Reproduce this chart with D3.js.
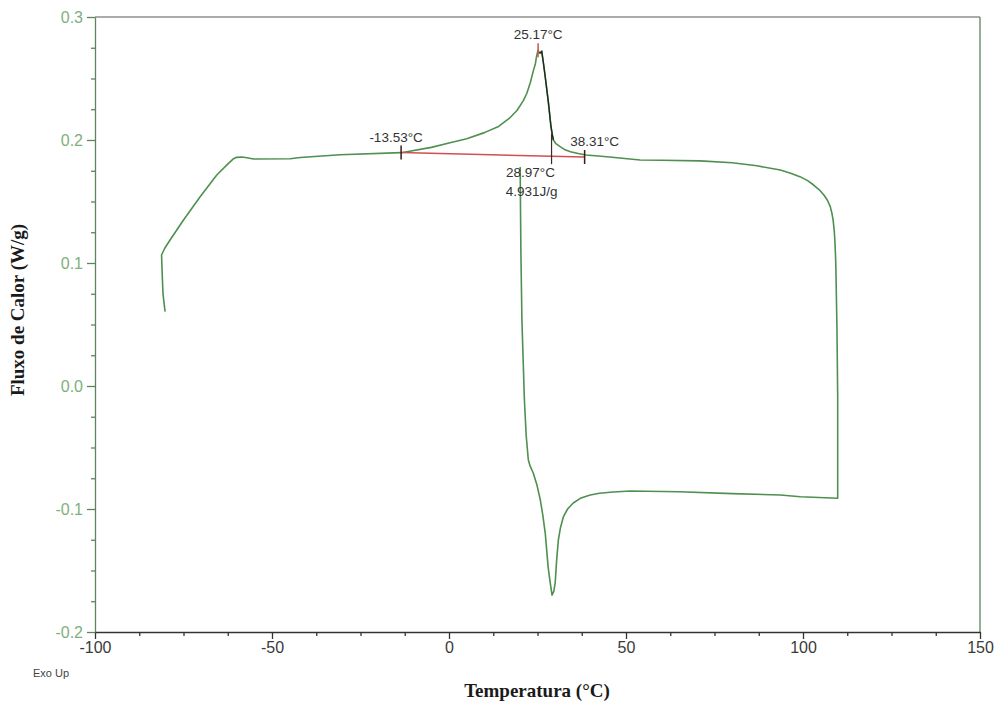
<!DOCTYPE html>
<html>
<head>
<meta charset="utf-8">
<script src="https://cdn.jsdelivr.net/npm/d3@7"></script>
<style>
  html, body { margin: 0; padding: 0; background: #ffffff; }
  svg { display: block; }
</style>
</head>
<body>
<svg id="chart" width="997" height="705"></svg>
<script>
// DSC heating scan (°C, W/g)
const heatTemp = [-80.2, -80.6, -80.8, -81.0, -81.2, -80.3, -78.8, -75.0, -70.3, -65.6, -62.3, -61.0, -60.0, -58.5, -57.1, -55.2,
  -44.9, -42.0, -30.8, -13.5, -5.0, 0.0, 5.0, 10.0, 14.0, 17.0, 19.2, 21.0, 22.0, 23.0, 23.8, 24.4, 24.8, 25.17, 25.6, 26.2,
  26.7, 27.2, 28.1, 28.8, 29.2, 29.5, 30.2, 31.4, 32.8, 34.3, 36.5, 38.7, 44.6, 54.0, 60.0, 71.0, 80.0, 87.0,
  93.6, 96.5, 99.3, 101.3, 103.0, 104.6, 105.9, 106.9, 107.7, 108.2, 108.5, 108.8, 109.0, 109.2, 109.3, 109.6, 109.8, 109.8];
const heatFlow = [0.0604, 0.07, 0.0756, 0.09, 0.1065, 0.112, 0.1187, 0.135, 0.1539, 0.1715, 0.181, 0.1845, 0.1859, 0.1862, 0.1856, 0.1846,
  0.1848, 0.1858, 0.188, 0.1897, 0.194, 0.1975, 0.201, 0.206, 0.211, 0.2175, 0.224, 0.232, 0.238, 0.247, 0.256, 0.262, 0.269, 0.273, 0.2705, 0.272,
  0.262, 0.251, 0.230, 0.211, 0.204, 0.200, 0.197, 0.1946, 0.192, 0.1905, 0.189, 0.1878, 0.1864, 0.1837, 0.1835, 0.183, 0.1815, 0.179,
  0.1756, 0.173, 0.170, 0.167, 0.1634, 0.1595, 0.1553, 0.151, 0.1458, 0.140, 0.135, 0.127, 0.1187, 0.105, 0.0943, 0.0455, -0.0087, -0.0913];

// DSC cooling scan (°C, W/g)
const coolTemp = [109.8, 99.3, 93.6, 80.0, 65.0, 51.2, 46.4, 42.5, 39.9, 37.3, 35.1, 33.5, 32.3, 31.5, 30.9, 30.4, 30.0, 29.6, 29.1,
  28.9, 28.5, 28.0, 27.2, 26.5, 25.8, 24.8, 23.8, 22.9, 22.4, 21.8, 21.3, 20.6, 20.3, 20.1];
const coolFlow = [-0.0913, -0.090, -0.0886, -0.0875, -0.086, -0.0854, -0.0862, -0.0872, -0.0886, -0.091, -0.0951, -0.100, -0.1065, -0.115, -0.125, -0.142, -0.160, -0.167, -0.170,
  -0.166, -0.158, -0.147, -0.12, -0.105, -0.0927, -0.080, -0.0707, -0.065, -0.060, -0.040, -0.0114, 0.0537, 0.111, 0.178];

// Peak integration results
const onsetTemp = -13.53, endTemp = 38.31, peakTemp = 25.17, dropTemp = 28.97;
const baselineFlow = [0.1898, 0.1862];   // at onsetTemp, endTemp
const enthalpyLabel = "4.931J/g";

// Axis ticks
const xMajor = [-100, -50, 0, 50, 100, 150];
const xMinor = d3.range(-100, 150.01, 12.5).filter(v => !xMajor.includes(v));
const yMajor = [-0.2, -0.1, 0.0, 0.1, 0.2, 0.3];
const yMinor = d3.range(-0.2, 0.3001, 0.025).map(v => +v.toFixed(3)).filter(v => !yMajor.some(m => Math.abs(m - v) < 1e-6));

const svg = d3.select("#chart");
const x = d3.scaleLinear().domain([-100, 150]).range([95, 980]);
const y = d3.scaleLinear().domain([-0.2, 0.3]).range([632, 17]);

const green = "#4f8f4f";
const axisGreen = "#5c855c";
const labelGreen = "#7db07d";
const sans = "'Liberation Sans', Arial, sans-serif";
const serif = "'Liberation Serif', 'Times New Roman', serif";
const hyphen = f => v => f(v).replace("\u2212", "-");

// frame: top grey, right green
svg.append("line").attr("x1", x(-100)).attr("x2", x(150)).attr("y1", y(0.3)).attr("y2", y(0.3))
  .attr("stroke", "#8f8f8f").attr("stroke-width", 1.3);
svg.append("line").attr("x1", x(150)).attr("x2", x(150)).attr("y1", y(0.3)).attr("y2", y(-0.2))
  .attr("stroke", axisGreen).attr("stroke-width", 1.3);

// x axis
const xAxisG = svg.append("g").attr("transform", `translate(0,${y(-0.2)})`);
xAxisG.call(d3.axisBottom(x).tickValues(xMajor).tickSize(7).tickSizeOuter(0).tickPadding(3).tickFormat(hyphen(d3.format("d"))));
xAxisG.append("g").call(d3.axisBottom(x).tickValues(xMinor).tickSize(4).tickFormat(""))
  .select(".domain").remove();
xAxisG.selectAll("path.domain").attr("stroke", "#333").attr("stroke-width", 1.3);
xAxisG.selectAll(".tick line").attr("stroke", "#333").attr("stroke-width", 1.3);
xAxisG.selectAll(".tick text").attr("fill", "#3a3a3a").style("font-family", sans).style("font-size", "16px");

// y axis
const yAxisG = svg.append("g").attr("transform", `translate(${x(-100)},0)`);
yAxisG.call(d3.axisLeft(y).tickValues(yMajor).tickSize(8).tickSizeOuter(0).tickPadding(4).tickFormat(hyphen(d3.format(".1f"))));
yAxisG.append("g").call(d3.axisLeft(y).tickValues(yMinor).tickSize(4).tickFormat(""))
  .select(".domain").remove();
yAxisG.selectAll("path.domain").attr("stroke", axisGreen).attr("stroke-width", 1.3);
yAxisG.selectAll(".tick line").attr("stroke", axisGreen).attr("stroke-width", 1.3);
yAxisG.selectAll(".tick text").attr("fill", labelGreen).style("font-family", sans).style("font-size", "16px");

// axis titles
svg.append("text").attr("x", 537).attr("y", 697).attr("text-anchor", "middle")
  .style("font-family", serif).style("font-weight", "bold").style("font-size", "19px").attr("fill", "#1a1a1a")
  .text("Temperatura (°C)");
svg.append("text").attr("transform", `translate(24,${310}) rotate(-90)`).attr("text-anchor", "middle")
  .style("font-family", serif).style("font-weight", "bold").style("font-size", "19px").attr("fill", "#1a1a1a")
  .text("Fluxo de Calor (W/g)");
svg.append("text").attr("x", 33).attr("y", 677)
  .style("font-family", sans).style("font-size", "11px").attr("fill", "#444")
  .text("Exo Up");

// DSC trace: heating then cooling, as one continuous path
const pts = heatTemp.map((t, i) => [t, heatFlow[i]])
  .concat(coolTemp.slice(1).map((t, i) => [t, coolFlow[i + 1]]));
const line = d3.line().x(d => x(d[0])).y(d => y(d[1]));
svg.append("path").datum(pts).attr("d", line)
  .attr("fill", "none").attr("stroke", green).attr("stroke-width", 1.6).attr("stroke-linejoin", "round");

// integration baseline
svg.append("line")
  .attr("x1", x(onsetTemp)).attr("y1", y(baselineFlow[0]))
  .attr("x2", x(endTemp)).attr("y2", y(baselineFlow[1]))
  .attr("stroke", "#d05050").attr("stroke-width", 1.5);

// trailing edge of the peak, highlighted
const edge = heatTemp.map((t, i) => [t, heatFlow[i]]).filter(d => d[0] >= 25.6 && d[0] <= 29.5);
svg.append("path").datum(edge).attr("d", line)
  .attr("fill", "none").attr("stroke", "#1e2a1e").attr("stroke-width", 1.4);

// limit markers
const baseAt = t => baselineFlow[0] + (baselineFlow[1] - baselineFlow[0]) * (t - onsetTemp) / (endTemp - onsetTemp);
[onsetTemp, endTemp].forEach(t => {
  svg.append("line").attr("x1", x(t)).attr("x2", x(t))
    .attr("y1", y(baseAt(t)) - 7).attr("y2", y(baseAt(t)) + 7)
    .attr("stroke", "#3a1a1a").attr("stroke-width", 1.5);
});
// drop line at 28.97
svg.append("line").attr("x1", x(dropTemp)).attr("x2", x(dropTemp))
  .attr("y1", y(0.205)).attr("y2", y(baseAt(dropTemp)) + 8)
  .attr("stroke", "#3a2a2a").attr("stroke-width", 1.2);
// peak marker
svg.append("line").attr("x1", x(peakTemp)).attr("x2", x(peakTemp))
  .attr("y1", y(0.273) - 7).attr("y2", y(0.273) + 7)
  .attr("stroke", "#d05050").attr("stroke-width", 1.5);

// annotation texts
const annot = (tx, ty, s) => svg.append("text").attr("x", tx).attr("y", ty).attr("text-anchor", "middle")
  .style("font-family", sans).style("font-size", "13.5px").attr("fill", "#333").text(s);
annot(x(peakTemp), 39, peakTemp.toFixed(2) + "°C");
annot(x(onsetTemp) - 5, 142, onsetTemp.toFixed(2) + "°C");
annot(x(endTemp) + 10, 146, endTemp.toFixed(2) + "°C");
annot(x(dropTemp) - 21, 177, dropTemp.toFixed(2) + "°C");
annot(x(dropTemp) - 20, 196, enthalpyLabel);
</script>
</body>
</html>
